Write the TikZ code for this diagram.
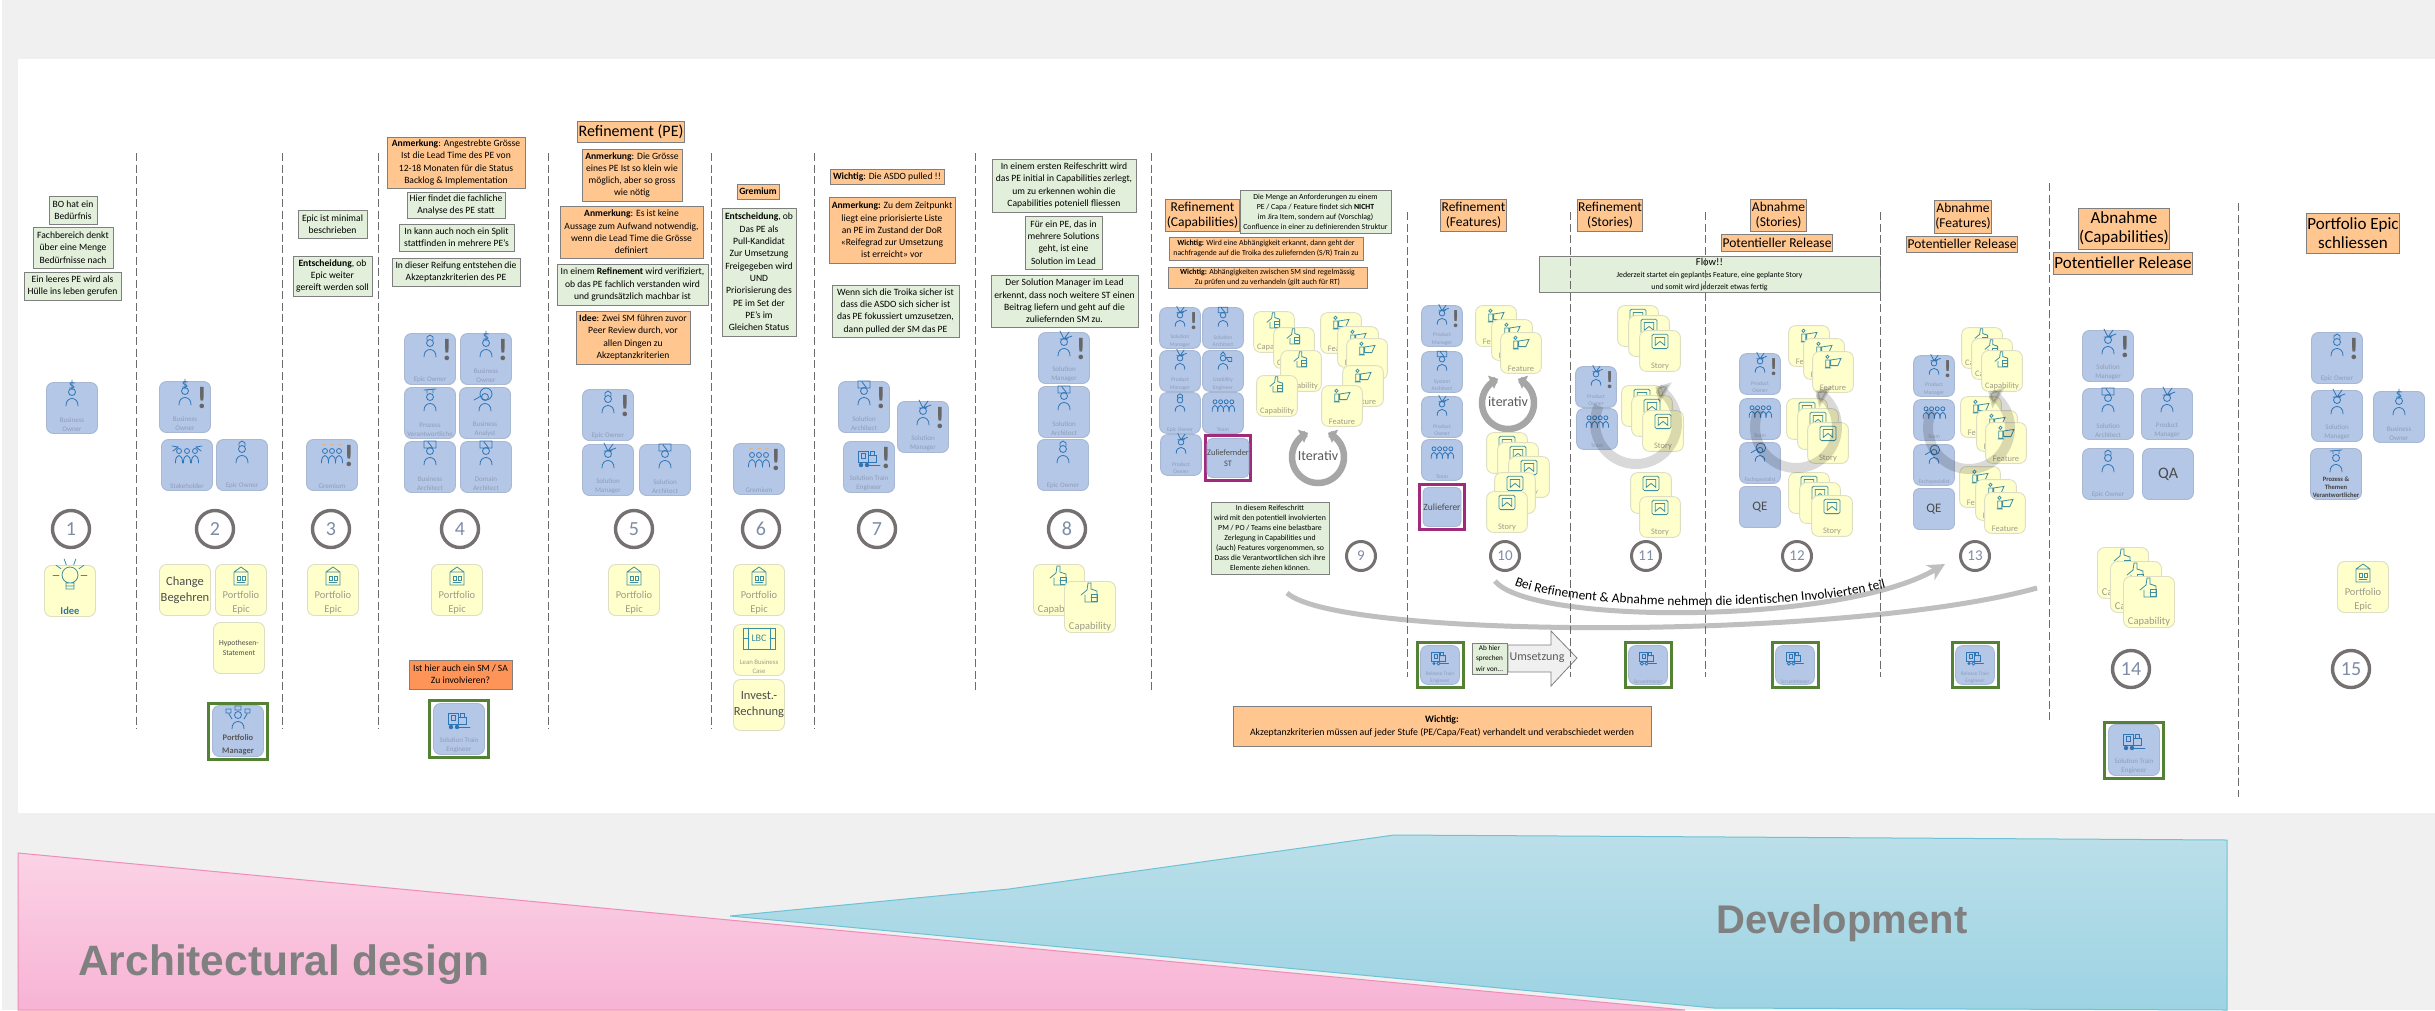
\documentclass[tikz,border=0pt]{standalone}
\usepackage{fontspec}
\usepackage{xcolor}
\usepackage{tikz}
\usetikzlibrary{arrows.meta,decorations.text}
\setmainfont{Carlito}
\newfontfamily\bandfont{Liberation Sans}

\definecolor{panelgrey}{HTML}{F0F0F0}
\definecolor{notegreen}{HTML}{E2EFDA}
\definecolor{noteorange}{HTML}{FFC68F}
\definecolor{hotorange}{HTML}{FF9459}
\definecolor{noteline}{HTML}{7F7F7F}
\definecolor{tileblue}{HTML}{B4C7E7}
\definecolor{tileline}{HTML}{A9B8D2}
\definecolor{tiletext}{HTML}{8E9DB8}
\definecolor{iconblue}{HTML}{2E75B6}
\definecolor{cardyellow}{HTML}{FFFFCC}
\definecolor{cardline}{HTML}{DEDEC4}
\definecolor{cardtext}{HTML}{9C9C8C}
\definecolor{iconteal}{HTML}{3F8FA3}
\definecolor{framegreen}{HTML}{548235}
\definecolor{framepurple}{HTML}{A02B7D}
\definecolor{ringgrey}{HTML}{767171}
\definecolor{numblue}{HTML}{7E8CA6}
\definecolor{loopgrey}{HTML}{A6A6A6}
\definecolor{bendgrey}{HTML}{BFBFBF}
\definecolor{pinktop}{HTML}{FBD3E6}
\definecolor{pinkbottom}{HTML}{F7B3D4}
\definecolor{pinkline}{HTML}{F08CB8}
\definecolor{bluetop}{HTML}{BBDFE9}
\definecolor{bluebottom}{HTML}{9DD3E3}
\definecolor{blueline}{HTML}{6CC3D6}

% icons, drawn around (0,0) with y going down
\newcommand{\personshape}{\draw[iconline] (0,-7) circle (3.5) (-6,7) .. controls (-6.5,-3) and (6.5,-3) .. (6,7);}
\newcommand{\trainshape}{%
  \draw[iconline] (-11,-7) rectangle (-1,4) (-8,-5) rectangle (-4,0) (-1,-3) rectangle (7,4) (1,-3) -- (1,-7) -- (5,-7) -- (5,-3);
  \draw[iconline] (-1,7) -- (11,7);}
\tikzset{
  iconline/.style={draw=iconblue, line width=.8pt, line cap=round},
  cardstroke/.style={draw=iconteal, line width=.8pt, line cap=round},
  pics/epicowner/.style={code={\personshape
    \draw[iconline] (-3,-10) -- (-3,-13) -- (0,-15) -- (3,-13) -- (3,-10);}},
  pics/bizowner/.style={code={\personshape
    \draw[iconline] (2.5,-16) .. controls (-3,-18) and (-3,-14) .. (0,-13.5) .. controls (3,-13) and (3,-10) .. (-2.5,-11) (0,-19) -- (0,-9);}},
  pics/manager/.style={code={\personshape
    \draw[iconline] (-4,-10) -- (4,-10) (0,-10) -- (-4,-18) (0,-10) -- (5,-17) (0,-10) -- (8,-13);}},
  pics/architect/.style={code={\personshape
    \draw[iconline] (-6,-17) rectangle (6,-10) (-2,-16) -- (2,-11);}},
  pics/analyst/.style={code={\personshape
    \draw[iconline] (1,-10) circle (6) (-4,-8) -- (-11,-4);}},
  pics/process/.style={code={\personshape
    \draw[iconline] (-6,-14) -- (6,-15) (-3,-11) -- (-3,-14) (3,-11) -- (3,-15);}},
  pics/usability/.style={code={\personshape
    \draw[iconline] (4,-8) -- (11,-8) -- (11,-3) -- (7,-3) -- (4,-8) (-3,-11) -- (0,-15) -- (3,-11);}},
  pics/teamicon/.style={code={\foreach \px in {-10,-3,4,11}{
      \draw[iconline] (\px,-5) circle (2.5) (\px-3.5,7) .. controls (\px-4,-3) and (\px+4,-3) .. (\px+3.5,7);}}},
  pics/holders/.style={code={\foreach \px in {-8,0,8}{
      \draw[iconline] (\px,-5) circle (2.5) (\px-3.5,7) .. controls (\px-4,-3) and (\px+4,-3) .. (\px+3.5,7);}
    \draw[iconline] (-15,-10) -- (-9,-9) -- (-14,-5) (15,-10) -- (9,-9) -- (14,-5);}},
  pics/boardicon/.style={code={\foreach \px in {-7,0,7}{
      \draw[iconline] (\px,-5) circle (2.5) (\px-3.5,7) .. controls (\px-4,-3) and (\px+4,-3) .. (\px+3.5,7);}
    \draw[draw=orange!70, line width=.5pt] (-10,-11) -- (-6,-12) (-2,-11) -- (2,-12) (6,-11) -- (10,-12);}},
  pics/steicon/.style={code={\trainshape
    \fill[iconblue] (-8,7) circle (2.2) (-2,7) circle (2.2);}},
  pics/rteicon/.style={code={\trainshape
    \fill[iconblue] (-8,7) circle (2.2);
    \draw[iconline, fill=tileblue] (-2,7) circle (2.2);}},
  pics/smicon/.style={code={\trainshape
    \draw[iconline, fill=tileblue] (-8,7) circle (2.2) (-2,7) circle (2.2);}},
  pics/pmicon/.style={code={\personshape
    \draw[iconline] (-6,-3) -- (-9,-8) (6,-3) -- (9,-8) (-12,-9) rectangle (-7,-13) (-3,-16) rectangle (3,-12) (7,-13) rectangle (12,-9);}},
  pics/epicicon/.style={code={
    \draw[cardstroke] (-7,-6) rectangle (7,7) (-7,-6) -- (0,-11) -- (7,-6);
    \draw[cardstroke] (-4,-2) rectangle (-1,2) (1,-2) rectangle (4,2) (-4,4) -- (4,4);}},
  pics/capaicon/.style={code={
    \draw[cardstroke] (-9,0) -- (-3,-5) -- (-2,-12) -- (1,-12) -- (1,-6) -- (7,-4) -- (7,7) -- (-5,7) -- (-5,0);
    \draw[cardstroke] (1,-1) rectangle (7,6) (1,2) -- (7,2);}},
  pics/feaicon/.style={code={
    \draw[cardstroke] (-7,-7) circle (2) (-9,-3) rectangle (-4,6) (-10,7) -- (-3,7);
    \draw[cardstroke] (-3,-3) -- (10,-5) -- (6,4) -- (-3,4) -- cycle;}},
  pics/storyicon/.style={code={
    \draw[cardstroke, rounded corners=1.5pt] (-10,-9) rectangle (10,9);
    \draw[cardstroke] (-6,-5) -- (6,-5) -- (6,5) -- (0,0) -- (-6,5) -- cycle;}},
  pics/bulbicon/.style={code={
    \draw[cardstroke] (0,-4) circle (8) (-4,4) rectangle (4,10) (-4,7) -- (4,7);
    \foreach \ra in {0,-35,-70,-110,-145,180}{\draw[cardstroke] ({11*cos(\ra)},{-4+11*sin(\ra)}) -- ({17*cos(\ra)},{-4+17*sin(\ra)});}}},
  pics/lbcicon/.style={code={
    \draw[cardstroke] (-16,-10) rectangle (16,11) (-11,-10) -- (-11,11) (11,-10) -- (11,11) (-16,0) -- (-11,0) (11,0) -- (16,0);
    \node[text=iconteal, font=\fontsize{10}{10}\selectfont] (lbcmark) at (0,0) {LBC};}},
  pics/iterloop/.style={code={
    \draw[loopline] plot[domain=90:248, samples=30] ({26*cos(\x)},{26*sin(\x)});
    \draw[loopline] plot[domain=90:-68, samples=30] ({26*cos(\x)},{26*sin(\x)});}},
  pics/flowloop/.style={code={
    \draw[flowline] plot[domain=205:-62, samples=50] ({41*cos(\x)},{41*sin(\x)});}},
}

% a tile is a box, an icon and a label
\newcommand{\rolebox}[5][1]{%
  \begin{scope}[shift={(#3)},scale=#1,transform shape]
    \node[roletile] (#2) at (0,0) {};
    \pic at (0,-9) {#5};
    \node[rolelabel] (#2-t) at (#2.south) {#4};
  \end{scope}}
\newcommand{\rolealert}[5][1]{%
  \rolebox[#1]{#2}{#3}{#4}{#5}
  \begin{scope}[shift={(#3)},scale=#1,transform shape]
    \node[alertmark] (#2-a) at (17,-9) {!};
  \end{scope}}
\newcommand{\cardbox}[5][1]{%
  \begin{scope}[shift={(#3)},scale=#1,transform shape]
    \node[cardtile] (#2) at (0,0) {};
    \pic at (0,-12) {#5};
    \node[cardlabel] (#2-t) at (#2.south) {#4};
  \end{scope}}

\begin{document}
\begin{tikzpicture}[
  x=1pt, y=-1pt,
  wh/.style 2 args={minimum width=#1pt, minimum height=#2pt},
  note/.style={draw=noteline, line width=1pt, inner sep=1pt, align=center, text=black},
  greennote/.style={note, fill=notegreen, font=\fontsize{9.6}{12.3}\selectfont},
  orangenote/.style={note, fill=noteorange, font=\fontsize{9.6}{12.3}\selectfont},
  tinygreen/.style={greennote, font=\fontsize{7.8}{9.9}\selectfont},
  tinyorange/.style={orangenote, font=\fontsize{7.8}{10}\selectfont},
  titlebox/.style={orangenote, font=\fontsize{13.5}{15}\selectfont},
  hugetitle/.style={orangenote, font=\fontsize{17}{19}\selectfont},
  roletile/.style={draw=tileline, fill=tileblue, line width=.9pt, rounded corners=7pt, minimum size=51pt, inner sep=0pt, align=center, text=black!70},
  rolelabel/.style={anchor=south, inner sep=2pt, align=center, text=tiletext, font=\fontsize{7}{9.3}\selectfont},
  alertmark/.style={text=black!60, inner sep=0pt, font=\bfseries\fontsize{31}{31}\selectfont},
  cardtile/.style={draw=cardline, fill=cardyellow, line width=.9pt, rounded corners=7pt, minimum size=51pt, inner sep=0pt, align=center, text=black!70},
  cardlabel/.style={anchor=south, inner sep=2pt, align=center, text=cardtext, font=\fontsize{10.5}{14}\selectfont},
  greenframe/.style={draw=framegreen, fill=white, line width=3pt},
  purpleframe/.style={draw=framepurple, fill=white, line width=2.5pt},
  stepcircle/.style={circle, draw=ringgrey, fill=white, line width=3.4pt, minimum size=37pt, inner sep=0pt, text=numblue, font=\fontsize{20}{20}\selectfont},
  smallstep/.style={stepcircle, line width=3pt, minimum size=29pt, font=\fontsize{15}{15}\selectfont},
  looptext/.style={text=black!65, inner sep=0pt, font=\fontsize{14}{14}\selectfont},
  loopline/.style={draw=loopgrey, line width=6.5pt, -{Triangle[width=14pt,length=8pt]}},
  flowline/.style={draw=black, draw opacity=.15, fill opacity=.15, line width=10pt, -{Triangle[width=24pt,length=12pt]}},
  bendline/.style={draw=bendgrey, line width=5pt},
  separator/.style={draw=black!58, line width=1pt, dash pattern=on 8pt off 3.5pt},
]
\useasboundingbox (0,0) rectangle (2435,1010);
\fill[panelgrey] (2,0) rectangle (2435,1010);
\fill[white] (18,59) rectangle (2435,813);

% the two bands
\draw[draw=pinkline, line width=1pt, top color=pinktop, bottom color=pinkbottom] (18,853) -- (1685,1010) -- (18,1010) -- cycle;
\draw[draw=blueline, line width=1pt, top color=bluetop, bottom color=bluebottom] (730,916) -- (1009,889) -- (1394,835) -- (2227,840) -- (2227,1010) -- (1714,1008) -- cycle;
\node[text=black!50, inner sep=0pt, anchor=base west, font=\bandfont\bfseries\fontsize{42.5}{42.5}\selectfont] (archband) at (78,975) {Architectural design};
\node[text=black!50, inner sep=0pt, anchor=base west, font=\bandfont\bfseries\fontsize{40}{40}\selectfont] (devband) at (1716,933) {Development};

% column 1
\node[greennote, wh={48}{28}] (need) at (73,210) {BO hat ein\\Bedürfnis};
\node[greennote, wh={80}{41}] (think) at (73,247.5) {Fachbereich denkt\\über eine Menge\\Bedürfnisse nach};
\node[greennote, wh={97}{28}] (empty) at (72.5,286) {Ein leeres PE wird als\\Hülle ins leben gerufen};
\rolebox{bo1}{72,408}{Business\\Owner}{bizowner}
\node[stepcircle] (n1) at (71,529) {1};
\cardbox{idea}{70,591}{\textcolor{iconblue}{\textbf{Idee}}}{bulbicon}

% column 2
\rolealert{bo2}{185,407}{Business\\Owner}{bizowner}
\rolebox{holder}{187,465}{Stakeholder}{holders}
\rolebox{eo2}{242,465}{Epic Owner}{epicowner}
\node[stepcircle] (n2) at (215,529) {2};
\node[cardtile, font=\fontsize{12.5}{16}\selectfont] (change) at (185,590) {Change\\Begehren};
\cardbox{epic2}{241,590}{Portfolio\\Epic}{epicicon}
\node[cardtile, font=\fontsize{7.6}{10.5}\selectfont] (hypo) at (239,648) {Hypothesen-\\Statement};
\node[greenframe, wh={59}{56}] (pmframe) at (238,731) {};
\begin{scope}[rolelabel/.append style={text=black!65, font=\bfseries\fontsize{8.5}{13}\selectfont}]
\rolebox{pm2}{238,731}{Portfolio\\Manager}{pmicon}
\end{scope}

% column 3
\node[greennote, wh={69}{28}] (minimal) at (332.5,224) {Epic ist minimal\\beschrieben};
\node[greennote, wh={79}{40}] (decide3) at (332.5,276) {\textbf{Entscheidung}, ob\\Epic weiter\\gereift werden soll};
\rolealert{board3}{332,465}{Gremium}{boardicon}
\node[stepcircle] (n3) at (331,529) {3};
\cardbox{epic3}{333,590}{Portfolio\\Epic}{epicicon}

% column 4
\node[orangenote, wh={138}{51}] (size4) at (456,162.5) {\textbf{Anmerkung}: Angestrebte Grösse\\Ist die Lead Time des PE von\\12-18 Monaten für die Status\\Backlog \& Implementation};
\node[greennote, wh={98}{26}] (analysis) at (456,205) {Hier findet die fachliche\\Analyse des PE statt};
\node[greennote, wh={115}{27}] (split) at (456.5,237.5) {In kann auch noch ein Split\\stattfinden in mehrere PE's};
\node[greennote, wh={128}{28}] (accept4) at (456,272) {In dieser Reifung entstehen die\\Akzeptanzkriterien des PE};
\rolealert{eo4}{430,359}{Epic Owner}{epicowner}
\rolealert{bo4}{486,359}{Business\\Owner}{bizowner}
\rolebox{pv4}{430,413}{Prozess\\Verantwortliche}{process}
\rolebox{ba4}{485,413}{Business\\Analyst}{analyst}
\rolebox{arch4}{430,467}{Business\\Architect}{architect}
\rolebox{dom4}{486,467}{Domain\\Architect}{architect}
\node[stepcircle] (n4) at (460,529) {4};
\cardbox{epic4}{457,590}{Portfolio\\Epic}{epicicon}
\node[note, fill=hotorange, font=\fontsize{9.6}{12.3}\selectfont, wh={103}{29}] (askstill) at (460.5,674.5) {Ist hier auch ein SM / SA\\Zu involvieren?};
\node[greenframe, wh={59}{57}] (steframe4) at (459,729) {};
\rolebox{ste4}{459,729}{Solution Train\\Engineer}{steicon}

% column 5
\node[titlebox, font=\fontsize{16}{17}\selectfont, wh={104}{21}] (refpe) at (631,131.5) {Refinement (PE)};
\node[orangenote, wh={100}{52}] (size5) at (632,175) {\textbf{Anmerkung}: Die Grösse\\eines PE Ist so klein wie\\möglich, aber so gross\\wie nötig};
\node[orangenote, wh={143}{52}] (effort) at (631.5,232) {\textbf{Anmerkung}: Es ist keine\\Aussage zum Aufwand notwendig,\\wenn die Lead Time die Grösse\\definiert};
\node[greennote, wh={151}{41}] (verify) at (632.5,284.5) {In einem \textbf{Refinement} wird verifiziert,\\ob das PE fachlich verstanden wird\\und grundsätzlich machbar ist};
\node[orangenote, wh={114}{53}] (peer) at (633,337.5) {\textbf{Idee}: Zwei SM führen zuvor\\Peer Review durch, vor\\allen Dingen zu\\Akzeptanzkriterien};
\rolealert{eo5}{608,415}{Epic Owner}{epicowner}
\rolebox{sm5}{608,470}{Solution\\Manager}{manager}
\rolebox{sa5}{665,470}{Solution\\Architect}{architect}
\node[stepcircle] (n5) at (634,529) {5};
\cardbox{epic5}{634,590}{Portfolio\\Epic}{epicicon}

% column 6
\node[orangenote, wh={42}{15}] (board6) at (758,191.5) {\textbf{Gremium}};
\node[greennote, wh={74}{128}] (decide6) at (759,272) {\textbf{Entscheidung}, ob\\Das PE als\\Pull-Kandidat\\Zur Umsetzung\\Freigegeben wird\\UND\\Priorisierung des\\PE im Set der\\PE's im\\Gleichen Status};
\rolealert{grem6}{759,469}{Gremium}{boardicon}
\node[stepcircle] (n6) at (761,529) {6};
\cardbox{epic6}{759,590}{Portfolio\\Epic}{epicicon}
\begin{scope}[cardlabel/.append style={font=\fontsize{6.8}{9}\selectfont}]
\cardbox{lbc}{759,650}{Lean Business\\Case}{lbcicon}
\end{scope}
\node[cardtile, font=\fontsize{12.5}{16}\selectfont] (invest) at (759,705) {Invest.-\\Rechnung};

% column 7
\node[orangenote, wh={114}{15}] (pulled) at (887,176.5) {\textbf{Wichtig}: Die ASDO pulled !!};
\node[orangenote, wh={126}{66}] (listing) at (892,230) {\textbf{Anmerkung:} Zu dem Zeitpunkt\\liegt eine priorisierte Liste\\an PE im Zustand der DoR\\«Reifegrad zur Umsetzung\\ist erreicht» vor};
\node[greennote, wh={127}{52}] (troika) at (895.5,311) {Wenn sich die Troika sicher ist\\dass die ASDO sich sicher ist\\das PE fokussiert umzusetzen,\\dann pulled der SM das PE};
\rolealert{sa7}{864,407}{Solution\\Architect}{architect}
\rolealert{sm7}{923,427}{Solution\\Manager}{manager}
\rolealert{ste7}{869,467}{Solution Train\\Engineer}{steicon}
\node[stepcircle] (n7) at (877,529) {7};

% column 8
\node[greennote, wh={144}{53}] (first) at (1064,185.5) {In einem ersten Reifeschritt wird\\das PE initial in Capabilities zerlegt,\\um zu erkennen wohin die\\Capabilities poteniell fliessen};
\node[greennote, wh={77}{53}] (lead) at (1063.5,242.5) {Für ein PE, das in\\mehrere Solutions\\geht, ist eine\\Solution im Lead};
\node[greennote, wh={147}{52}] (further) at (1064.5,301) {Der Solution Manager im Lead\\erkennt, dass noch weitere ST einen\\Beitrag liefern  und geht auf die\\zuliefernden SM zu.};
\rolealert{sm8}{1064,358}{Solution\\Manager}{manager}
\rolebox{sa8}{1064,412}{Solution\\Architect}{architect}
\rolebox{eo8}{1063,465}{Epic Owner}{epicowner}
\node[stepcircle] (n8) at (1067,529) {8};
\cardbox{cap8a}{1059,590}{Capability}{capaicon}
\cardbox{cap8b}{1090,607}{Capability}{capaicon}

% column 9
\node[titlebox, wh={69}{32}] (refcap) at (1202.5,215) {Refinement\\(Capabilities)};
\node[tinygreen, wh={151}{43}] (amount) at (1315.5,211.5) {Die Menge an Anforderungen zu einem\\PE / Capa / Feature findet sich \textbf{NICHT}\\im Jira Item, sondern auf (Vorschlag)\\Confluence in einer zu definierenden Struktur};
\node[tinyorange, wh={194}{23}] (depend) at (1266,248.5) {\textbf{Wichtig:} Wird eine Abhängigkeit erkannt, dann geht der\\nachfragende auf die Troika des zuliefernden (S/R) Train zu};
\node[tinyorange, wh={199}{21}] (check) at (1267.5,277.5) {\textbf{Wichtig:} Abhängigkeiten zwischen SM sind regelmässig\\Zu prüfen und zu verhandeln (gilt auch für RT)};
\rolealert[.8]{sm9}{1180,328}{Solution\\Manager}{manager}
\rolebox[.8]{sa9}{1223,328}{Solution\\Architect}{architect}
\rolebox[.8]{pm9}{1180,371}{Product\\Manager}{manager}
\rolebox[.8]{ue9}{1223,371}{Usability\\Engineer}{usability}
\rolebox[.8]{eo9}{1180,413}{Epic Owner}{epicowner}
\rolebox[.8]{team9}{1223,413}{Team}{teamicon}
\rolebox[.8]{po9}{1181,455}{Product\\Owner}{manager}
\node[purpleframe, wh={45}{45}] (supframe9) at (1228,458) {};
\node[roletile, wh={38}{39}, rounded corners=5pt, font=\fontsize{8.4}{11}\selectfont] (sup9) at (1228,458) {Zuliefernder\\ST};
\cardbox[.8]{cap9a}{1274,332}{Capability}{capaicon}
\cardbox[.8]{cap9b}{1294,348}{Capability}{capaicon}
\cardbox[.8]{cap9c}{1301,371}{Capability}{capaicon}
\cardbox[.8]{cap9d}{1277,396}{Capability}{capaicon}
\cardbox[.8]{fea9a}{1341,333}{Feature}{feaicon}
\cardbox[.8]{fea9b}{1358,347}{Feature}{feaicon}
\cardbox[.8]{fea9c}{1367,359}{Feature}{feaicon}
\cardbox[.8]{fea9d}{1363,386}{Feature}{feaicon}
\cardbox[.8]{fea9e}{1342,406}{Feature}{feaicon}
\pic at (1318,457) {iterloop};
\node[looptext] (loop9) at (1318,456) {Iterativ};
\node[tinygreen, wh={118}{72}] (step9) at (1270,538) {In diesem Reifeschritt\\wird mit den potentiell involvierten\\PM / PO / Teams eine belastbare\\Zerlegung in Capabilities und\\(auch) Features vorgenommen, so\\Dass die Verantwortlichen sich ihre\\Elemente ziehen können.};
\node[smallstep] (n9) at (1361,556) {9};

% column 10
\node[titlebox, wh={61}{32}] (reffea) at (1473.5,215) {Refinement\\(Features)};
\rolealert[.8]{pm10}{1442,326}{Product\\Manager}{manager}
\rolebox[.8]{sys10}{1442,372}{System\\Architect}{architect}
\rolebox[.8]{po10}{1442,417}{Product\\Owner}{manager}
\rolebox[.8]{team10}{1442,460}{Team}{teamicon}
\node[purpleframe, wh={45}{45}] (supframe10) at (1442,507) {};
\node[roletile, wh={38}{39}, rounded corners=5pt, font=\fontsize{9.5}{11}\selectfont] (sup10) at (1442,507) {Zulieferer};
\cardbox[.8]{fea10a}{1496,326}{Feature}{feaicon}
\cardbox[.8]{fea10b}{1512,340}{Feature}{feaicon}
\cardbox[.8]{fea10c}{1521,353}{Feature}{feaicon}
\pic at (1508,403) {iterloop};
\node[looptext] (loop10) at (1508,402) {iterativ};
\cardbox[.8]{sto10a}{1507,453}{Story}{storyicon}
\cardbox[.8]{sto10b}{1518,463}{Story}{storyicon}
\cardbox[.8]{sto10c}{1529,477}{Story}{storyicon}
\cardbox[.8]{sto10d}{1515,493}{Story}{storyicon}
\cardbox[.8]{sto10e}{1507,512}{Story}{storyicon}
\node[smallstep] (n10) at (1505,556) {10};
\node[greenframe, wh={46}{45}] (rteframe10) at (1440,665) {};
\rolebox[.76]{rte10}{1440,665}{Release Train\\Engineer}{rteicon}
\node[tinygreen, wh={35}{31}, font=\fontsize{7.2}{10.3}\selectfont] (fromhere) at (1489.5,658.5) {Ab hier\\sprechen\\wir von...};

% columns 11 to 13
\node[titlebox, wh={62}{32}] (refsto) at (1610,215) {Refinement\\(Stories)};
\rolealert[.8]{po11}{1596,387}{Product\\Owner}{manager}
\rolebox[.8]{team11}{1597,429}{Team}{teamicon}
\cardbox[.8]{sto11a}{1638,326}{Story}{storyicon}
\cardbox[.8]{sto11b}{1649,336}{Story}{storyicon}
\cardbox[.8]{sto11c}{1660,351}{Story}{storyicon}
\cardbox[.8]{sto11d}{1642,406}{Story}{storyicon}
\cardbox[.8]{sto11e}{1652,416}{Story}{storyicon}
\cardbox[.8]{sto11f}{1663,431}{Story}{storyicon}
\cardbox[.8]{sto11g}{1651,493}{Story}{storyicon}
\cardbox[.8]{sto11h}{1660,517}{Story}{storyicon}
\pic at (1636,423) {flowloop};
\node[smallstep] (n11) at (1646,556) {11};
\node[greenframe, wh={46}{45}] (smframe11) at (1648,665) {};
\rolebox[.76]{sm11}{1648,665}{ScrumMaster}{smicon}

\node[titlebox, wh={51}{32}] (acpsto) at (1778.5,215) {Abnahme\\(Stories)};
\node[titlebox, wh={102}{17}] (rel12) at (1777,242.5) {Potentieller Release};
\rolealert[.8]{po12}{1760,374}{Product\\Owner}{manager}
\rolebox[.8]{team12}{1760,419}{Team}{teamicon}
\rolebox[.8]{spec12}{1760,463}{Fachspezialist}{analyst}
\node[roletile, wh={41}{41}, rounded corners=6pt, font=\fontsize{13}{13}\selectfont] (qe12) at (1760,507) {QE};
\cardbox[.8]{fea12a}{1809,346}{Feature}{feaicon}
\cardbox[.8]{fea12b}{1824,359}{Feature}{feaicon}
\cardbox[.8]{fea12c}{1833,372}{Feature}{feaicon}
\cardbox[.8]{sto12a}{1807,419}{Story}{storyicon}
\cardbox[.8]{sto12b}{1818,429}{Story}{storyicon}
\cardbox[.8]{sto12c}{1828,443}{Story}{storyicon}
\cardbox[.8]{sto12d}{1809,493}{Story}{storyicon}
\cardbox[.8]{sto12e}{1820,503}{Story}{storyicon}
\cardbox[.8]{sto12f}{1832,516}{Story}{storyicon}
\pic at (1796,427) {flowloop};
\node[smallstep] (n12) at (1797,556) {12};
\node[greenframe, wh={46}{45}] (smframe12) at (1795,665) {};
\rolebox[.76]{sm12}{1795,665}{ScrumMaster}{smicon}

\node[titlebox, wh={54}{33}] (acpfea) at (1963,216.5) {Abnahme\\(Features)};
\node[titlebox, wh={102}{16}] (rel13) at (1962,244) {Potentieller Release};
\rolealert[.8]{pm13}{1934,376}{Product\\Manager}{manager}
\rolebox[.8]{team13}{1934,420}{Team}{teamicon}
\rolebox[.8]{spec13}{1934,465}{Fachspezialist}{analyst}
\node[roletile, wh={41}{41}, rounded corners=6pt, font=\fontsize{13}{13}\selectfont] (qe13) at (1934,509) {QE};
\cardbox[.8]{cap13a}{1982,348}{Capability}{capaicon}
\cardbox[.8]{cap13b}{1992,359}{Capability}{capaicon}
\cardbox[.8]{cap13c}{2002,371}{Capability}{capaicon}
\cardbox[.8]{fea13a}{1981,417}{Feature}{feaicon}
\cardbox[.8]{fea13b}{1997,431}{Feature}{feaicon}
\cardbox[.8]{fea13c}{2006,443}{Feature}{feaicon}
\cardbox[.8]{fea13d}{1980,487}{Feature}{feaicon}
\cardbox[.8]{fea13e}{1996,500}{Feature}{feaicon}
\cardbox[.8]{fea13f}{2005,513}{Feature}{feaicon}
\pic at (1969,428) {flowloop};
\node[smallstep] (n13) at (1975,556) {13};
\node[greenframe, wh={46}{45}] (rteframe13) at (1975,665) {};
\rolebox[.76]{rte13}{1975,665}{Release Train\\Engineer}{rteicon}

\node[greennote, wh={341}{35}] (flow) at (1709.5,274.5) {{\fontsize{10.5}{12.5}\selectfont Flow!!}\\{\fontsize{7.8}{11}\selectfont Jederzeit startet ein geplantes Feature, eine geplante Story}\\{\fontsize{7.8}{11}\selectfont und somit wird jederzeit etwas fertig}};

% column 14
\node[hugetitle, wh={86}{41}] (acpcap) at (2124,228.5) {Abnahme\\(Capabilities)};
\node[hugetitle, wh={130}{22}] (rel14) at (2123,263) {Potentieller Release};
\rolealert{sm14}{2108,356}{Solution\\Manager}{manager}
\rolebox{sa14}{2108,414}{Solution\\Architect}{architect}
\rolebox{pm14}{2167,414}{Product\\Manager}{manager}
\rolebox{eo14}{2108,474}{Epic Owner}{epicowner}
\node[roletile, font=\fontsize{16}{16}\selectfont] (qa14) at (2168,474) {QA};
\cardbox{cap14a}{2123,573}{Capability}{capaicon}
\cardbox{cap14b}{2136,587}{Capability}{capaicon}
\cardbox{cap14c}{2149,602}{Capability}{capaicon}
\node[stepcircle] (n14) at (2131,669) {14};
\node[greenframe, wh={59}{56}] (steframe14) at (2134,750) {};
\rolebox{ste14}{2134,750}{Solution Train\\Engineer}{steicon}

% column 15
\node[hugetitle, wh={92}{40}] (closeepic) at (2353,233) {Portfolio Epic\\schliessen};
\rolealert{eo15}{2337,358}{Epic Owner}{epicowner}
\rolebox{sm15}{2337,416}{Solution\\Manager}{manager}
\rolebox{bo15}{2399,417}{Business\\Owner}{bizowner}
\begin{scope}[rolelabel/.append style={text=black!75, font=\bfseries\fontsize{6.6}{8}\selectfont}]
\rolebox{pv15}{2336,474}{Prozess \&\\Themen\\Verantwortlicher}{process}
\end{scope}
\cardbox{epic15}{2363,587}{Portfolio\\Epic}{epicicon}
\node[stepcircle] (n15) at (2351,669) {15};

% bottom note and the big arrows
\node[orangenote, wh={418}{40}, font=\fontsize{9.8}{13}\selectfont] (mustagree) at (1442,726) {\textbf{Wichtig:}\\Akzeptanzkriterien müssen auf jeder Stufe (PE/Capa/Feat) verhandelt und verabschiedet werden};

\coordinate (bendastart) at (1495,581);
\coordinate (bendaend) at (1945,564);
\coordinate (bendbstart) at (1287,593);
\coordinate (bendbend) at (2037,588);
\draw[bendline, -{Stealth[width=17pt,length=17pt,inset=5pt]}] (bendastart) .. controls (1530,625) and (1840,625) .. (bendaend);
\draw[bendline] (bendbstart) .. controls (1340,640) and (1850,640) .. (bendbend);
\coordinate (wordstart) at (1512,584);
\coordinate (wordend) at (1888,587);
\path[decorate, decoration={text along path, text align=center, text={|\fontsize{13.4}{14}\selectfont|Bei Refinement  {\&} Abnahme nehmen die identischen Involvierten teil}}] (wordstart) .. controls (1575,612) and (1800,612) .. (wordend);

\coordinate (buildstart) at (1508,645);
\draw[draw=noteline, line width=.8pt, fill=panelgrey] (buildstart) -- (1551,645) -- (1551,631) -- (1577,658) -- (1551,686) -- (1551,672) -- (1508,672) -- cycle;
\node[text=black!65, inner sep=0pt, font=\fontsize{12}{12}\selectfont] (build) at (1537,658) {Umsetzung};

% dashed column borders
\foreach \sx/\st/\sb in {136/153/729, 282/153/729, 378/153/729, 548/153/729, 711/153/729, 814/153/729, 975/153/690, 1151/153/690, 1407/212/677, 1570/212/677, 1705/212/677, 1880/212/677, 2049/183/720, 2238/203/797}{
  \draw[separator] (\sx,\st) -- (\sx,\sb);
}
\end{tikzpicture}
\end{document}
